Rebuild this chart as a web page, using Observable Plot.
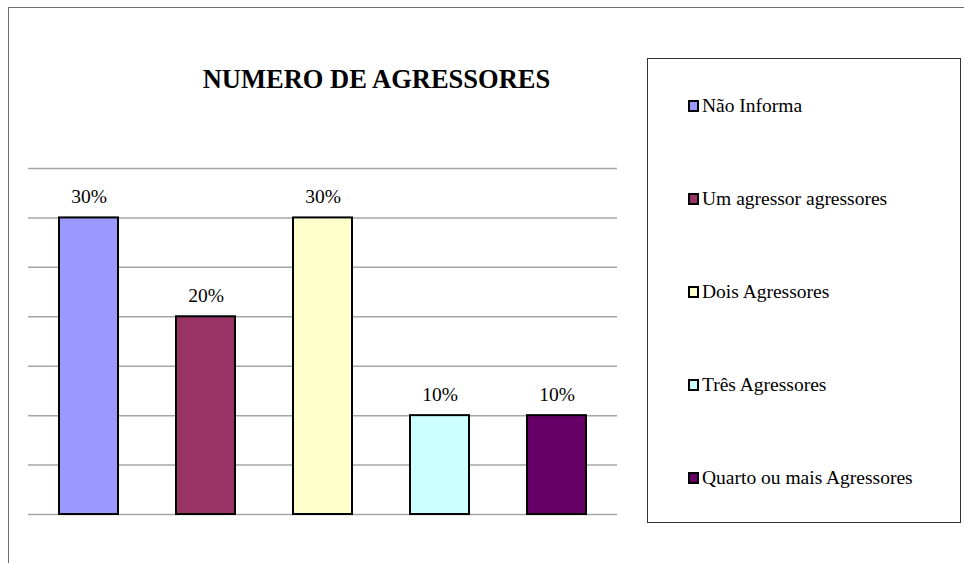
<!DOCTYPE html>
<html>
<head>
<meta charset="utf-8">
<script src="https://cdn.jsdelivr.net/npm/d3@7"></script>
<script src="https://cdn.jsdelivr.net/npm/@observablehq/plot@0.6"></script>
<style>
  html, body { margin: 0; padding: 0; background: #fff; }
  #wrap { position: relative; width: 964px; height: 563px; overflow: hidden; font-family: "Liberation Serif", "Times New Roman", serif; }
  #frame { position: absolute; left: 8px; top: 7px; width: 1000px; height: 1000px; border-left: 1.5px solid #6e6e6e; border-top: 1.5px solid #6e6e6e; }
  #chart { position: absolute; left: 0; top: 0; }
  #title { position: absolute; left: 0; width: 753px; top: 66px; text-align: center; font-weight: bold; font-size: 26.5px; line-height: 26px; color: #000; }
  #legend { position: absolute; left: 647px; top: 58px; width: 314px; height: 465px; box-sizing: border-box; border: 1.5px solid #333; background: #fff; }
  .item { position: absolute; left: 40px; font-size: 19.5px; line-height: 19px; white-space: nowrap; color: #000; }
  .sw { display: inline-block; width: 11px; height: 12px; box-sizing: border-box; border: 2px solid #000; margin-right: 3px; vertical-align: 0px; }
</style>
</head>
<body>
<div id="wrap">
  <div id="frame"></div>
  <div id="chart"></div>
  <div id="title"></div>
  <div id="legend"></div>
</div>
<script>
const title = "NUMERO DE AGRESSORES";
const categories = ["Não Informa", "Um agressor agressores", "Dois Agressores", "Três Agressores", "Quarto ou mais Agressores"];
const values = [30, 20, 30, 10, 10];
const colors = ["#9999FF", "#993366", "#FFFFCC", "#CCFFFF", "#660066"];
const gridTicks = [0, 5, 10, 15, 20, 25, 30, 35];
const valueLabels = values.map(v => v + "%");

const data = categories.map((c, i) => ({cat: c, value: values[i], label: valueLabels[i], color: colors[i]}));

const plot = Plot.plot({
  width: 964,
  height: 563,
  marginLeft: 28,
  marginRight: 347,
  marginTop: 168,
  marginBottom: 49,
  style: {fontFamily: "'Liberation Serif', 'Times New Roman', serif", fontSize: "19.5px", background: "transparent", color: "#000", overflow: "visible"},
  x: {domain: categories, paddingInner: 0.5, paddingOuter: 0.25, axis: null},
  y: {domain: [0, 35], axis: null},
  marks: [
    Plot.ruleY(gridTicks, {stroke: "#a6a6a6", strokeWidth: 1.5}),
    Plot.barY(data, {x: "cat", y: "value", fill: "color", stroke: "#000", strokeWidth: 2, inset: 0}),
    Plot.text(data, {x: "cat", y: "value", text: "label", lineAnchor: "bottom", dy: -15, fill: "#000"})
  ]
});
document.getElementById("chart").appendChild(plot);

document.getElementById("title").textContent = title;

const legend = document.getElementById("legend");
categories.forEach((c, i) => {
  const item = document.createElement("div");
  item.className = "item";
  item.style.top = (37 + i * 93) + "px";
  const sw = document.createElement("span");
  sw.className = "sw";
  sw.style.background = colors[i];
  item.appendChild(sw);
  item.appendChild(document.createTextNode(c));
  legend.appendChild(item);
});
</script>
</body>
</html>
